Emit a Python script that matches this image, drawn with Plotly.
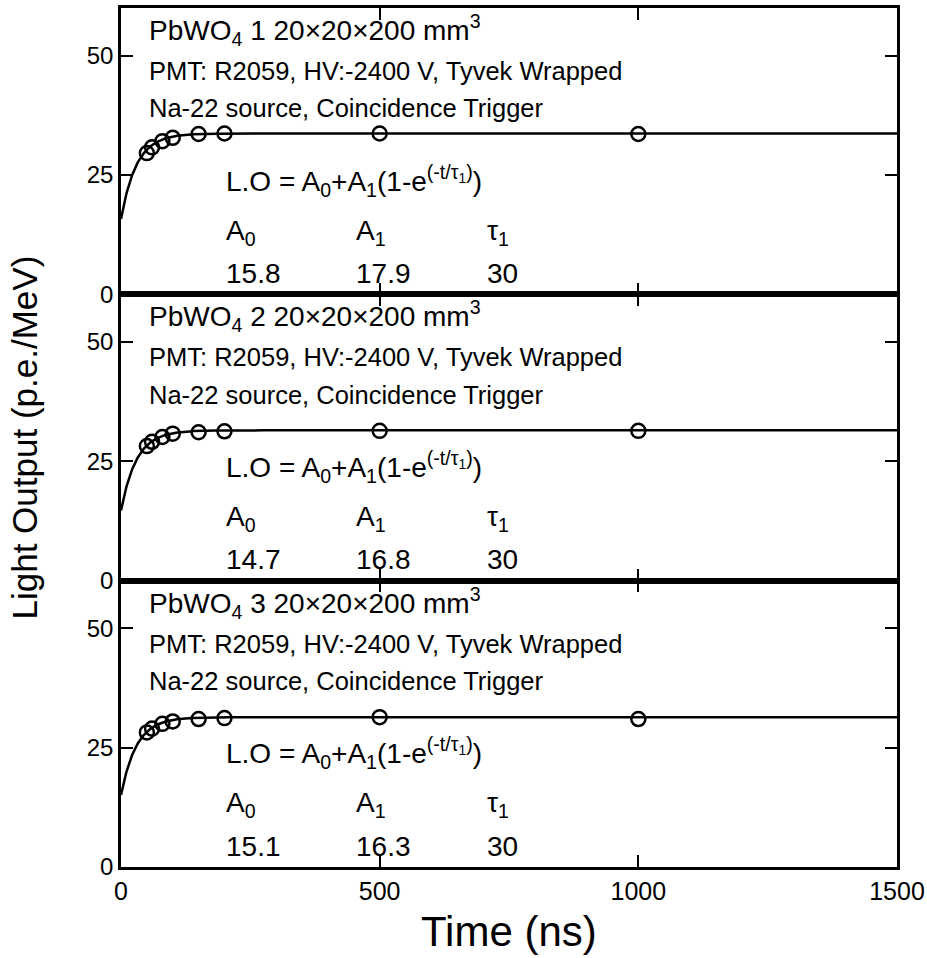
import numpy as np
import plotly.graph_objects as go
from plotly.subplots import make_subplots

# ---- data ----
time_ns = [50, 60, 80, 100, 150, 200, 500, 1000]
lo_crystal1 = [29.6, 30.8, 32.1, 32.8, 33.6, 33.7, 33.7, 33.6]
lo_crystal2 = [28.2, 29.1, 30.1, 30.8, 31.1, 31.3, 31.4, 31.4]
lo_crystal3 = [28.2, 29.0, 30.0, 30.5, 31.0, 31.2, 31.4, 31.0]
crystal_ids = ["1", "2", "3"]
fit_A0 = [15.8, 14.7, 15.1]
fit_A1 = [17.9, 16.8, 16.3]
fit_tau = [30, 30, 30]
x_ticks = [0, 500, 1000, 1500]
y_ticks = [0, 25, 50]

series = [lo_crystal1, lo_crystal2, lo_crystal3]

FONT = "Liberation Sans, Arial, sans-serif"

fig = make_subplots(rows=3, cols=1, shared_xaxes=True, vertical_spacing=0)

t_fit = np.linspace(0, 1500, 1501)
for i in range(3):
    row = i + 1
    fit = fit_A0[i] + fit_A1[i] * (1 - np.exp(-t_fit / fit_tau[i]))
    fig.add_trace(go.Scatter(x=t_fit, y=fit, mode="lines",
                             line=dict(color="black", width=2.5),
                             showlegend=False, hoverinfo="skip"), row=row, col=1)
    fig.add_trace(go.Scatter(x=time_ns, y=series[i], mode="markers",
                             marker=dict(symbol="circle-open", size=14, color="black",
                                         line=dict(width=2.5, color="black")),
                             showlegend=False), row=row, col=1)

    yref = "y" if row == 1 else f"y{row}"
    xref = "x" if row == 1 else f"x{row}"
    anns = [
        (50, 55.4, f"PbWO<sub>4</sub> {crystal_ids[i]} 20×20×200 mm<sup>3</sup>", 28),
        (50, 46.8, "PMT: R2059, HV:-2400 V, Tyvek Wrapped", 25.5),
        (50, 39.0, "Na-22 source, Coincidence Trigger", 25.5),
        (200, 23.8, "L.O = A<sub>0</sub>+A<sub>1</sub>(1-e<sup>(-t/τ<sub>1</sub>)</sup>)", 28),
        (200, 13.0, "A<sub>0</sub>", 28),
        (451, 13.0, "A<sub>1</sub>", 28),
        (703, 13.0, "τ<sub>1</sub>", 28),
        (200, 4.4, f"{fit_A0[i]}", 28),
        (451, 4.4, f"{fit_A1[i]}", 28),
        (703, 4.4, f"{fit_tau[i]}", 28),
    ]
    for (ax_, ay_, txt, fs) in anns:
        fig.add_annotation(x=ax_, y=ay_, xref=xref, yref=yref, text=txt,
                           showarrow=False, xanchor="left", yanchor="middle",
                           font=dict(family=FONT, size=fs, color="black"))

    fig.update_yaxes(range=[0, 60], tickvals=y_ticks, ticks="inside", ticklen=12,
                     tickwidth=2, tickcolor="black", showline=True, linewidth=2.5,
                     linecolor="black", mirror="allticks", showgrid=False,
                     zeroline=False, automargin=False,
                     tickfont=dict(family=FONT, size=24, color="black"),
                     row=row, col=1)
    fig.update_xaxes(range=[0, 1500], tickvals=x_ticks, ticks="inside", ticklen=12,
                     tickwidth=2, tickcolor="black", showline=True, linewidth=2.5,
                     linecolor="black", mirror="allticks", showgrid=False,
                     zeroline=False, showticklabels=(row == 3), automargin=False,
                     ticklabeloverflow="allow",
                     tickfont=dict(family=FONT, size=25, color="black"),
                     row=row, col=1)

fig.add_annotation(x=0.5, y=-0.075, xref="paper", yref="paper", text="Time (ns)",
                   showarrow=False, xanchor="center", yanchor="middle",
                   font=dict(family=FONT, size=42, color="black"))
fig.add_annotation(x=-0.125, y=0.5, xref="paper", yref="paper",
                   text="Light Output (p.e./MeV)", textangle=-90,
                   showarrow=False, xanchor="center", yanchor="middle",
                   font=dict(family=FONT, size=35, color="black"))

fig.update_layout(width=927, height=958, margin=dict(l=121, r=30, t=8, b=91),
                  plot_bgcolor="white", paper_bgcolor="white",
                  font=dict(family=FONT, color="black"))

fig.write_html("out.html")
